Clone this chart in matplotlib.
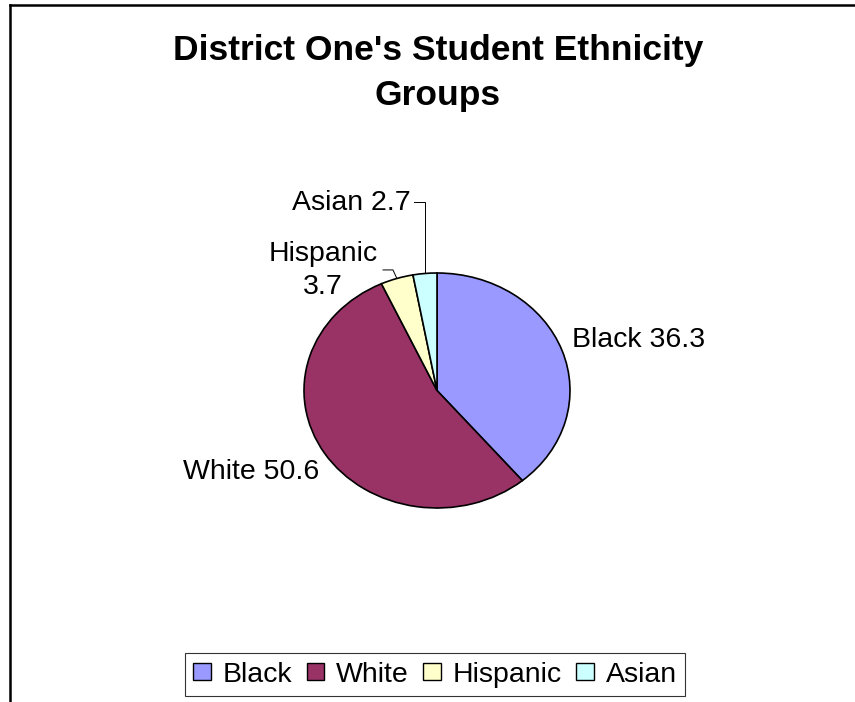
import matplotlib
matplotlib.use("Agg")
import matplotlib.pyplot as plt
import numpy as np
from matplotlib.lines import Line2D
from matplotlib.patches import Patch

# --- data ---
groups = ["Black", "White", "Hispanic", "Asian"]
values = [36.3, 50.6, 3.7, 2.7]
colors = ["#9999FF", "#993366", "#FFFFCC", "#CCFFFF"]
title = "District One's Student Ethnicity"
title2 = "Groups"

W, H = 855, 702
plt.rcParams["font.family"] = ["Liberation Sans", "DejaVu Sans"]

fig = plt.figure(figsize=(W / 100, H / 100), dpi=100)
fig.patch.set_facecolor("white")


def fx(px):
    return px / W


def fy(py):
    return 1 - py / H


# frame (only left + top edges visible in the original crop)
fig.add_artist(Line2D([fx(10), fx(10)], [0, fy(5)], transform=fig.transFigure, color="black", lw=1.8))
fig.add_artist(Line2D([fx(10), 1], [fy(5), fy(5)], transform=fig.transFigure, color="black", lw=1.8))

# title (two lines, bold)
fig.text(fx(438), fy(60), title, ha="center", va="baseline", fontsize=25.5, fontweight="bold")
fig.text(fx(438), fy(105), title2, ha="center", va="baseline", fontsize=25.5, fontweight="bold")

# pie axes: slightly elliptical pie, as in the source image
ax = fig.add_axes([fx(304), fy(508), (570 - 304) / W, (508 - 273) / H])
wedges, _ = ax.pie(values, colors=colors, startangle=90, counterclock=False,
                   wedgeprops=dict(edgecolor="black", linewidth=1.2))
ax.set_aspect("auto")
ax.set_xlim(-1, 1)
ax.set_ylim(-1, 1)
ax.axis("off")

# edge points at the middle of each wedge
mids = [np.deg2rad((w.theta1 + w.theta2) / 2) for w in wedges]
edge = [(np.cos(a), np.sin(a)) for a in mids]

lab_fs = 20.5
ax.text(1.015, 0.37, f"{groups[0]} {values[0]}", ha="left", va="baseline", fontsize=lab_fs)
ax.text(-0.887, -0.753, f"{groups[1]} {values[1]}", ha="right", va="baseline", fontsize=lab_fs)
ax.text(-0.857, 1.102, groups[2], ha="center", va="baseline", fontsize=lab_fs)
ax.text(-0.857, 0.821, f"{values[2]}", ha="center", va="baseline", fontsize=lab_fs)
ax.text(-0.195, 1.536, f"{groups[3]} {values[3]}", ha="right", va="baseline", fontsize=lab_fs)

# leader lines for the small slices
xe, ye = edge[2]
ax.plot([-0.406, -0.331, xe], [1.026, 1.026, ye], color="black", lw=0.7, clip_on=False)
xe, ye = edge[3]
ax.plot([-0.173, xe, xe], [1.604, 1.604, ye], color="black", lw=0.7, clip_on=False)

# legend
handles = [Patch(facecolor=c, edgecolor="black", lw=1.0) for c in colors]
leg = fig.legend(handles, groups, loc="center", bbox_to_anchor=(fx(435), fy(674.5)),
                 ncol=4, fontsize=lab_fs, frameon=True, fancybox=False,
                 handlelength=0.62, handleheight=0.52, handletextpad=0.42,
                 columnspacing=0.5, borderpad=0.3, borderaxespad=0)
leg.get_frame().set_edgecolor("black")
leg.get_frame().set_linewidth(0.8)

fig.savefig("out.png", dpi=100, facecolor="white")
